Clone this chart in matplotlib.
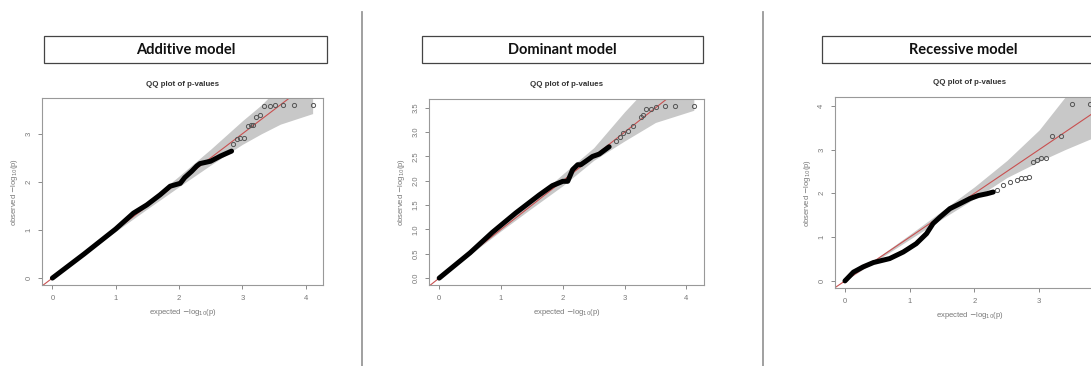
import matplotlib.pyplot as plt
from matplotlib.patches import Rectangle

# ---- data (expected vs observed -log10 p) ----
panel_titles = ['Additive model', 'Dominant model', 'Recessive model']

# Additive
add_exp_dense = [0.0, 0.5, 1.0, 1.28, 1.49, 1.7, 1.86, 2.02, 2.09, 2.2, 2.28, 2.33, 2.5, 2.66, 2.83]
add_obs_dense = [0.0, 0.5, 1.02, 1.35, 1.52, 1.73, 1.91, 1.97, 2.09, 2.22, 2.33, 2.38, 2.43, 2.54, 2.64]
add_exp_tail = [2.86, 2.92, 2.97, 3.02, 3.09, 3.13, 3.17, 3.22, 3.28, 3.35, 3.43, 3.52, 3.65, 3.82, 4.11]
add_obs_tail = [2.78, 2.9, 2.91, 2.92, 3.17, 3.18, 3.19, 3.35, 3.4, 3.58, 3.58, 3.6, 3.6, 3.6, 3.6]
add_band_x = [0.0, 1.0, 1.5, 2.0, 2.5, 3.0, 3.3, 3.6, 4.11]
add_band_lo = [0.0, 0.97, 1.44, 1.9, 2.35, 2.78, 3.0, 3.2, 3.42]
add_band_hi = [0.0, 1.04, 1.58, 2.12, 2.68, 3.27, 3.6, 4.0, 4.9]

# Dominant
dom_exp_dense = [0.0, 0.5, 0.86, 1.24, 1.62, 1.83, 2.0, 2.08, 2.16, 2.24, 2.29, 2.37, 2.48, 2.59, 2.75]
dom_obs_dense = [0.0, 0.52, 0.94, 1.34, 1.71, 1.9, 1.99, 1.99, 2.23, 2.33, 2.33, 2.4, 2.5, 2.55, 2.7]
dom_exp_tail = [2.86, 2.93, 2.97, 3.05, 3.13, 3.27, 3.3, 3.35, 3.43, 3.51, 3.65, 3.82, 4.12]
dom_obs_tail = [2.81, 2.9, 2.98, 3.03, 3.12, 3.31, 3.36, 3.48, 3.48, 3.51, 3.53, 3.54, 3.54]
dom_band_x = [0.0, 1.0, 1.5, 2.0, 2.5, 3.0, 3.5, 4.12]
dom_band_lo = [0.0, 0.97, 1.44, 1.9, 2.42, 2.82, 3.2, 3.45]
dom_band_hi = [0.0, 1.04, 1.58, 2.14, 2.68, 3.42, 4.1, 4.9]

# Recessive
rec_exp_dense = [0.0, 0.13, 0.28, 0.44, 0.69, 0.9, 1.1, 1.26, 1.36, 1.47, 1.62, 1.77, 1.93, 2.06, 2.19, 2.29]
rec_obs_dense = [0.0, 0.2, 0.32, 0.42, 0.51, 0.66, 0.85, 1.08, 1.31, 1.46, 1.65, 1.76, 1.88, 1.95, 1.99, 2.03]
rec_exp_tail = [2.34, 2.44, 2.55, 2.65, 2.72, 2.78, 2.84, 2.9, 2.96, 3.03, 3.1, 3.2, 3.33, 3.5, 3.79]
rec_obs_tail = [2.08, 2.18, 2.26, 2.31, 2.34, 2.36, 2.37, 2.71, 2.75, 2.8, 2.8, 3.32, 3.32, 4.04, 4.04]
rec_band_x = [0.0, 1.0, 1.5, 2.0, 2.5, 3.0, 3.4, 3.85]
rec_band_lo = [0.0, 0.95, 1.42, 1.88, 2.36, 2.73, 3.0, 3.28]
rec_band_hi = [0.0, 1.06, 1.6, 2.15, 2.75, 3.45, 4.2, 5.2]

panels = [
    (add_exp_dense, add_obs_dense, add_exp_tail, add_obs_tail, add_band_x, add_band_lo, add_band_hi),
    (dom_exp_dense, dom_obs_dense, dom_exp_tail, dom_obs_tail, dom_band_x, dom_band_lo, dom_band_hi),
    (rec_exp_dense, rec_obs_dense, rec_exp_tail, rec_obs_tail, rec_band_x, rec_band_lo, rec_band_hi),
]

W, H = 1091, 366
# pixel boxes (left, top, right, bottom) for each axes
ax_px = [(42, 98, 323, 285), (429, 99, 704, 285), (835, 97, 1104, 288)]
box_px = [(44, 36, 327, 63), (422, 36, 703, 63), (822, 36, 1105, 63)]
xlims = [(-0.164, 4.274), (-0.165, 4.285), (-0.154, 4.0)]
ylims = [(-0.144, 3.744), (-0.142, 3.682), (-0.162, 4.20)]
xticks = [[0, 1, 2, 3, 4], [0, 1, 2, 3, 4], [0, 1, 2, 3]]
yticks = [[0, 1, 2, 3], [0.0, 0.5, 1.0, 1.5, 2.0, 2.5, 3.0, 3.5], [0, 1, 2, 3, 4]]
ytick_fmt = ['{:.0f}', '{:.1f}', '{:.0f}']

plt.rcParams['font.family'] = ['Liberation Sans', 'DejaVu Sans']
grey = '#777777'

fig = plt.figure(figsize=(W / 100, H / 100), dpi=100)

for i, (ed, od, et, ot, bx, blo, bhi) in enumerate(panels):
    l, t, r, b = ax_px[i]
    ax = fig.add_axes([l / W, (H - b) / H, (r - l) / W, (b - t) / H])
    ax.fill_between(bx, blo, bhi, color='#c8c8c8', lw=0, zorder=1)
    ax.axline((0, 0), slope=1, color='#c85050', lw=0.8, zorder=2)
    ax.plot(ed, od, color='black', lw=3.6, solid_capstyle='round',
            solid_joinstyle='round', zorder=3)
    ax.plot(et, ot, ls='none', marker='o', ms=3.0, mfc='none', mec='#555555',
            mew=0.7, zorder=4)
    ax.set_xlim(*xlims[i])
    ax.set_ylim(*ylims[i])
    ax.set_xticks(xticks[i])
    ax.set_yticks(yticks[i])
    ax.set_yticklabels([ytick_fmt[i].format(v) for v in yticks[i]],
                       rotation=90, va='center')
    ax.tick_params(colors=grey, labelsize=5.5, length=3, width=0.6, pad=4)
    for s in ax.spines.values():
        s.set_color('#999999')
        s.set_linewidth(0.8)
    ax.set_xlabel('expected $-$log$_{10}$(p)', fontsize=5.5, color=grey, labelpad=4)
    ax.set_ylabel('observed $-$log$_{10}$(p)', fontsize=5.5, color=grey, labelpad=4)
    ax.set_title('QQ plot of p-values', fontsize=5.7, fontweight='bold',
                 color='#333333', pad=9)

    # model name box
    bl, bt, br, bb = box_px[i]
    fig.patches.append(Rectangle((bl / W, (H - bb) / H), (br - bl) / W, (bb - bt) / H,
                                 transform=fig.transFigure, fill=False,
                                 ec='#444444', lw=0.9))
    fig.text((bl + br) / 2 / W, (H - (bt + bb) / 2) / H, panel_titles[i],
             ha='center', va='center', fontsize=10.5, fontweight='bold',
             family=['Lato', 'DejaVu Sans'], color='#111111')

# vertical separators
for xs in [362, 763]:
    fig.add_artist(plt.Line2D([xs / W, xs / W], [0, (H - 12) / H], transform=fig.transFigure,
                              color='#999999', lw=1.3))

fig.savefig('out.png', dpi=100)
